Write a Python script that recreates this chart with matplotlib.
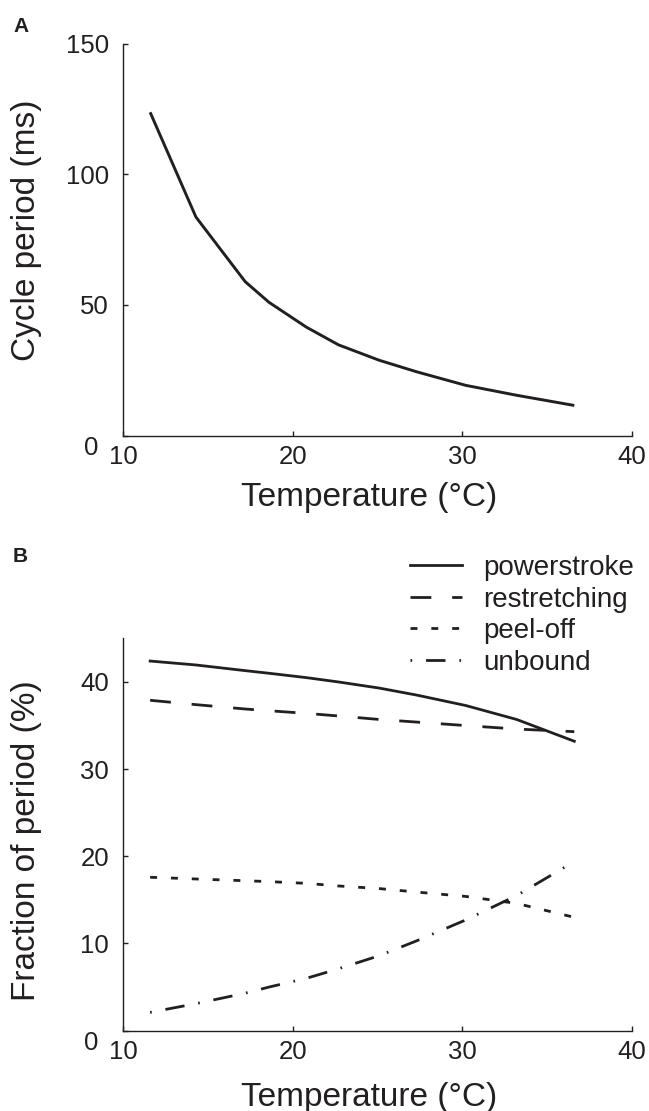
import matplotlib
matplotlib.use("Agg")
import matplotlib.pyplot as plt
from matplotlib.transforms import ScaledTranslation

# ---- data ----
temp = [11.6, 14.3, 17.2, 18.6, 20.8, 22.7, 25.1, 27.3, 30.2, 33.2, 36.6]
cycle_period = [123.7, 83.6, 58.9, 51.0, 41.5, 34.7, 28.8, 24.4, 19.2, 15.4, 11.5]

powerstroke = [42.4, 41.95, 41.3, 41.0, 40.5, 40.0, 39.3, 38.5, 37.3, 35.7, 33.2]
restretching = [37.9, 37.4, 36.9, 36.7, 36.4, 36.1, 35.7, 35.4, 35.0, 34.6, 34.3]
peel_off = [17.6, 17.4, 17.2, 17.1, 16.9, 16.6, 16.3, 15.9, 15.4, 14.6, 13.0]
unbound = [2.1, 3.1, 4.3, 5.0, 6.0, 7.1, 8.6, 10.3, 12.7, 15.5, 19.4]

x_ticks = [10, 20, 30, 40]
yA_ticks = [0, 50, 100, 150]
yB_ticks = [0, 10, 20, 30, 40]

INK = "#231f20"
plt.rcParams["font.family"] = ["Liberation Sans", "DejaVu Sans"]
plt.rcParams["text.color"] = INK
plt.rcParams["axes.labelcolor"] = INK
plt.rcParams["xtick.color"] = INK
plt.rcParams["ytick.color"] = INK

fig = plt.figure(figsize=(6.49, 11.11), dpi=100)
axA = fig.add_axes([0.1895, 0.608, 0.7843, 0.3528])
axB = fig.add_axes([0.1895, 0.0723, 0.7843, 0.3531])


def style(ax, yticks, ylim):
    ax.set_xlim(10, 40)
    ax.set_ylim(*ylim)
    ax.set_xticks(x_ticks)
    ax.set_yticks(yticks)
    for s in ("top", "right"):
        ax.spines[s].set_visible(False)
    for s in ("left", "bottom"):
        ax.spines[s].set_linewidth(1.0)
        ax.spines[s].set_color(INK)
    ax.tick_params(axis="both", direction="in", length=3.5, width=1.0,
                   labelsize=18.5)
    ax.tick_params(axis="x", pad=7)
    ax.tick_params(axis="y", pad=10)
    # the zero label sits below/left of its tick
    lab0 = ax.get_yticklabels()[0]
    lab0.set_verticalalignment("top")
    lab0.set_transform(lab0.get_transform() +
                       ScaledTranslation(-8 / 72, 0, fig.dpi_scale_trans))


# ---- panel A ----
axA.plot(temp, cycle_period, color=INK, lw=2.1, solid_capstyle="butt")
style(axA, yA_ticks, (0, 150))
axA.set_xlabel("Temperature (°C)", fontsize=24)
axA.set_ylabel("Cycle period (ms)", fontsize=24)
axA.xaxis.set_label_coords(0.484, -0.119)
axA.yaxis.set_label_coords(-0.159, 0.524)

# ---- panel B ----
axB.plot(temp, powerstroke, color=INK, lw=2.0, ls="-", label="powerstroke")
axB.plot(temp, restretching, color=INK, lw=2.0, ls=(0, (7.5, 7.5)),
         dash_capstyle="butt", label="restretching")
axB.plot(temp, peel_off, color=INK, lw=2.0, ls=(0, (2.5, 5)),
         dash_capstyle="butt", label="peel-off")
axB.plot(temp, unbound, color=INK, lw=2.0, ls=(0, (0.6, 5, 7, 5)),
         dash_capstyle="butt", label="unbound")
style(axB, yB_ticks, (0, 45))
axB.set_xlabel("Temperature (°C)", fontsize=24)
axB.set_ylabel("Fraction of period (%)", fontsize=24)
axB.xaxis.set_label_coords(0.484, -0.131)
axB.yaxis.set_label_coords(-0.159, 0.484)

axB.legend(loc="upper left", bbox_to_anchor=(410 / 649, 1 - 555 / 1111),
           bbox_transform=fig.transFigure, frameon=False, fontsize=20,
           borderpad=0, borderaxespad=0, handlelength=1.87,
           handletextpad=0.75, labelspacing=0.2)

# panel letters
fig.text(13 / 649, 1 - 17 / 1111, "A", fontsize=15, fontweight="bold",
         va="top", ha="left")
fig.text(13 / 649, 1 - 547 / 1111, "B", fontsize=15, fontweight="bold",
         va="top", ha="left")

fig.savefig("out.png", dpi=100)
